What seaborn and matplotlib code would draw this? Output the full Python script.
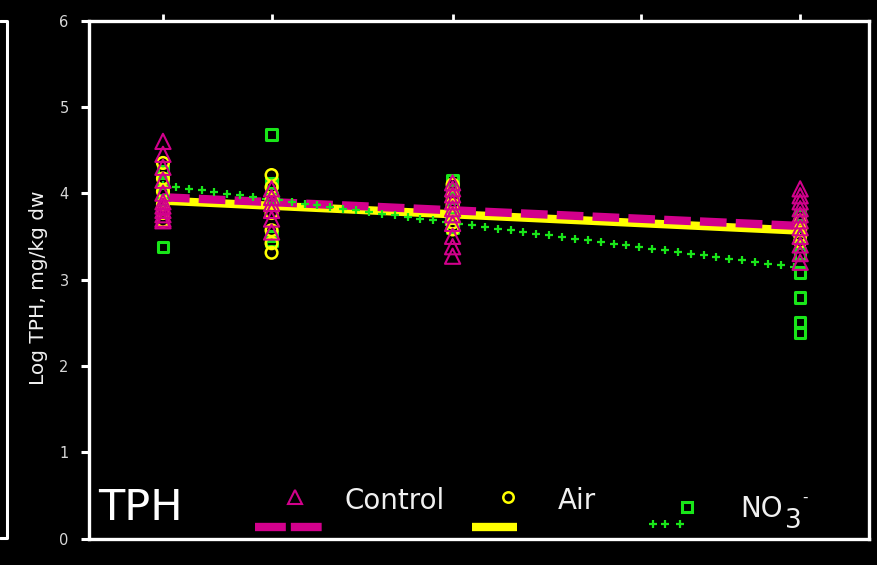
"""Log TPH over time for Control, Air and NO3- treatments, with linear fits."""

import matplotlib
matplotlib.use("Agg")
import matplotlib.pyplot as plt
import numpy as np
import pandas as pd
import seaborn as sns
from matplotlib.lines import Line2D

# Sampling days and the tick positions along the top axis
days = [0, 15, 40, 88]
top_ticks = [0, 15, 40, 66, 88]
y_ticks = [0, 1, 2, 3, 4, 5, 6]

# Log TPH (mg/kg dw) read per sampling day, one list per day
control_tph = [
    [4.60, 4.45, 4.30, 4.15, 4.00, 3.90, 3.85, 3.80, 3.75, 3.70, 3.68],
    [4.05, 3.95, 3.88, 3.80, 3.70, 3.55],
    [4.12, 4.05, 3.98, 3.90, 3.82, 3.75, 3.65, 3.50, 3.38, 3.27],
    [4.05, 3.97, 3.90, 3.82, 3.75, 3.68, 3.60, 3.50, 3.40, 3.30, 3.20],
]
air_tph = [
    [4.35, 4.17, 4.02, 3.87, 3.77, 3.68],
    [4.21, 4.07, 3.92, 3.77, 3.57, 3.42, 3.31],
    [4.10, 3.96, 3.86, 3.76, 3.66, 3.58],
    [3.68, 3.58, 3.51, 3.44],
]
nitrate_tph = [
    [4.25, 4.12, 4.00, 3.92, 3.38],
    [4.68, 4.12, 3.95, 3.50, 3.45],
    [4.15, 4.05, 3.95, 3.85, 3.72, 3.60],
    [3.75, 3.50, 3.30, 3.08, 2.79, 2.51, 2.38],
]

MAGENTA = "#d2008c"
YELLOW = "#ffff00"
GREEN = "#19e619"
TEXT = "#f0f0f0"


def to_frame(values):
    rows = []
    for day, vals in zip(days, values):
        for v in vals:
            rows.append({"day": day, "tph": v})
    return pd.DataFrame(rows)


df_ctrl = to_frame(control_tph)
df_air = to_frame(air_tph)
df_no3 = to_frame(nitrate_tph)

sns.set_theme(style="dark", rc={
    "figure.facecolor": "black",
    "axes.facecolor": "black",
    "axes.edgecolor": "white",
    "text.color": TEXT,
})
plt.rcParams["font.family"] = ["DejaVu Sans"]

fig, ax = plt.subplots(figsize=(8.78, 5.65), dpi=100)
fig.subplots_adjust(left=0.1019, right=0.9897, bottom=0.0469, top=0.9637)

# Fitted lines (air under control, nitrate on top)
sns.regplot(data=df_air, x="day", y="tph", scatter=False, ci=None, ax=ax,
            line_kws=dict(color=YELLOW, lw=6, solid_capstyle="butt", zorder=2))
sns.regplot(data=df_ctrl, x="day", y="tph", scatter=False, ci=None, ax=ax,
            line_kws=dict(color=MAGENTA, lw=6, dashes=(3.2, 1.1),
                          dash_capstyle="butt", zorder=3))
sns.regplot(data=df_no3, x="day", y="tph", scatter=False, ci=None, ax=ax,
            line_kws=dict(color=GREEN, linestyle="none", marker="+",
                          markersize=6, markeredgewidth=1.6, markevery=2,
                          zorder=4))

# Observations
sns.scatterplot(data=df_no3, x="day", y="tph", marker="s", s=55,
                facecolors="none", edgecolor=GREEN, linewidth=2.2, ax=ax, zorder=5)
sns.scatterplot(data=df_air, x="day", y="tph", marker="o", s=70,
                facecolors="none", edgecolor=YELLOW, linewidth=1.8, ax=ax, zorder=5)
sns.scatterplot(data=df_ctrl, x="day", y="tph", marker="^", s=120,
                facecolors="none", edgecolor=MAGENTA, linewidth=1.5, ax=ax, zorder=6)

ax.set_xlim(-10.15, 97.5)
ax.set_ylim(0, 6)
ax.set_yticks(y_ticks)
ax.set_xticks(top_ticks)
ax.tick_params(axis="x", top=True, bottom=False, labeltop=False,
               labelbottom=False, length=5, width=2, color="white",
               direction="out")
ax.tick_params(axis="y", left=True, length=6, width=2.2, color="white",
               direction="out", pad=9, labelsize=10.5, labelcolor="#d8d8d8")
for spine in ax.spines.values():
    spine.set_color("white")
    spine.set_linewidth(2.4)
ax.grid(False)
ax.set_xlabel("")
ax.set_ylabel("Log TPH, mg/kg dw", fontsize=14.5, color=TEXT)
ax.yaxis.set_label_coords(-0.053, 0.4846)

# Legend drawn inside the frame
tr = ax.transAxes
ax.text(0.011, 0.036, "TPH", transform=tr, fontsize=31, color="white",
        ha="left", va="baseline")
ax.plot([0.2636], [0.0801], transform=tr, marker="^", ms=10, mfc="none",
        mec=MAGENTA, mew=1.5, linestyle="none")
ax.text(0.3277, 0.0569, "Control", transform=tr, fontsize=20, color=TEXT,
        ha="left", va="baseline")
ax.plot([0.2124, 0.2984], [0.0222, 0.0222], transform=tr, color=MAGENTA,
        lw=6, dashes=(3.7, 0.6), dash_capstyle="butt")
ax.plot([0.5368], [0.0801], transform=tr, marker="o", ms=7.5, mfc="none",
        mec=YELLOW, mew=1.8, linestyle="none")
ax.text(0.6010, 0.0569, "Air", transform=tr, fontsize=20, color=TEXT,
        ha="left", va="baseline")
ax.plot([0.4907, 0.5484], [0.0222, 0.0222], transform=tr, color=YELLOW,
        lw=6, solid_capstyle="butt")
ax.plot([0.7666], [0.0608], transform=tr, marker="s", ms=7.5, mfc="none",
        mec=GREEN, mew=2.2, linestyle="none")
ax.plot([0.7229, 0.7383, 0.7576], [0.028, 0.028, 0.028], transform=tr,
        marker="+", ms=6, mew=1.6, color=GREEN, linestyle="none")
ax.text(0.8345, 0.0415, "NO", transform=tr, fontsize=20, color=TEXT,
        ha="left", va="baseline")
ax.text(0.8925, 0.0200, "3", transform=tr, fontsize=19, color=TEXT,
        ha="left", va="baseline")
ax.text(0.9145, 0.0700, "-", transform=tr, fontsize=11, color=TEXT,
        ha="left", va="baseline")

# Edge of the neighbouring panel frame
fig.add_artist(Line2D([0, 7 / 878, 7 / 878, 0],
                      [1 - 21 / 565, 1 - 21 / 565, 1 - 538 / 565, 1 - 538 / 565],
                      transform=fig.transFigure, color="white", lw=2.2))

fig.savefig("out.png", dpi=100, facecolor="black")
